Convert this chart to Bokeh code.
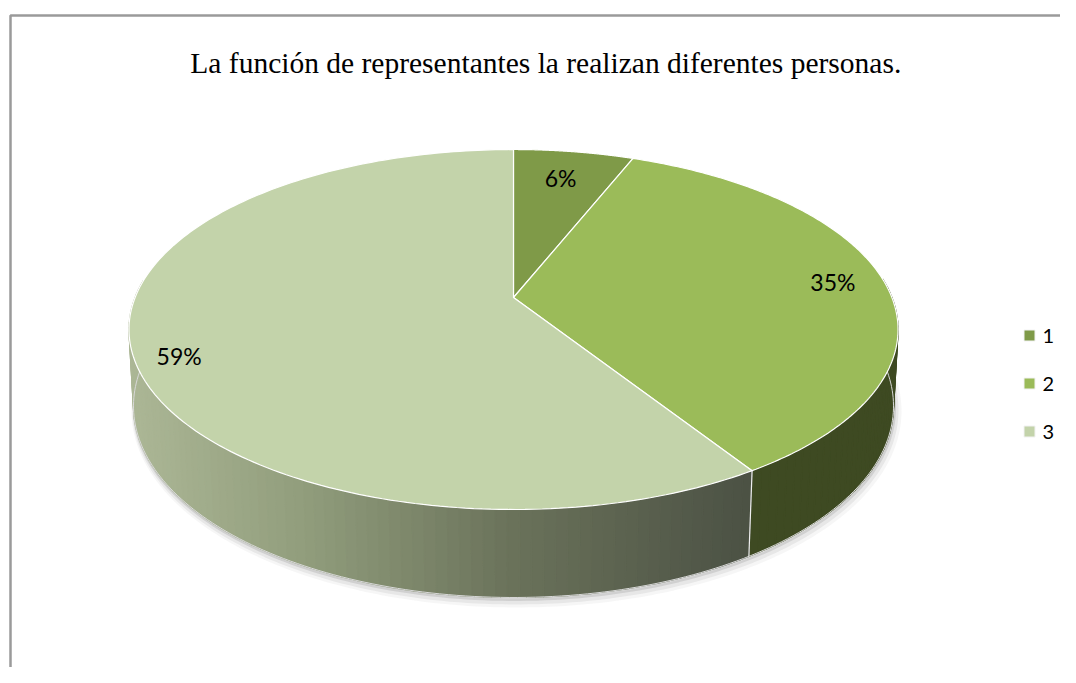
import numpy as np
from bokeh.plotting import figure
from bokeh.models import Range1d
from bokeh.core.properties import value
from bokeh.embed import file_html
from bokeh.resources import INLINE

# ---------------- data ----------------
title_text = "La función de representantes la realizan  diferentes personas."
categories = ["1", "2", "3"]
percentages = [6, 35, 59]
pct_labels = ["6%", "35%", "59%"]

# ---------------- style ----------------
top_colors = ["#7F9A48", "#9BBB59", "#C3D3AA"]
side_const = ["#5E7234", "#3E4A22", None]
grad_stops_t = [0.0, 0.22, 0.5, 0.81, 1.0]
grad_stops_c = [(172, 183, 150), (146, 158, 125), (106, 114, 90), (75, 81, 68), (70, 76, 64)]
label_r = [0.75, 0.86, 0.88]
label_dy = [-6, -2, 14]

W, H = 1060, 667
p = figure(width=W, height=H, x_range=Range1d(0, W), y_range=Range1d(H, 0),
           output_backend="svg", toolbar_location=None, min_border=0,
           x_axis_location=None, y_axis_location=None)
p.grid.visible = False
p.outline_line_color = None
p.background_fill_color = "white"
p.border_fill_color = "white"

# perspective projection of the pie (theta clockwise from 12 o'clock)
CX, CY = 513.0, 297.0
A, B, HD = 378.4, 174.3, 75.8
K, M = 0.1778, 0.0115


def proj(theta, r=1.0, h=0.0):
    u = r * np.sin(theta)
    v = -r * np.cos(theta)
    w = 1 - K * v + M * h
    return CX + A * u / w, CY + (B * v + HD * h) / w


total = float(sum(percentages))
cum = np.concatenate([[0.0], np.cumsum(percentages) / total])
ang = 2 * np.pi * cum

x_left = CX - A / np.sqrt(1 - K * K)
x_w = 2 * A / np.sqrt(1 - K * K)


def grad_color(x):
    t = (x - x_left) / x_w
    t = min(max(t, 0.0), 1.0)
    c = [np.interp(t, grad_stops_t, [s[j] for s in grad_stops_c]) for j in range(3)]
    return "#%02x%02x%02x" % tuple(int(round(v)) for v in c)


# ---------- shadow under the pie ----------
ts_front = np.linspace(np.radians(70), np.radians(290), 200)
for dx, dy, lw, al in [(3, 5, 10, 0.05), (2, 4, 6, 0.09), (1, 2, 3, 0.16)]:
    bx, by = proj(ts_front, h=1.0)
    p.line(bx + dx, by + dy, line_color="#555555", line_width=lw, line_alpha=al)

# ---------- side wall strips ----------
strips = []
for i in range(len(percentages)):
    t0, t1 = ang[i], ang[i + 1]
    n = max(2, int((t1 - t0) / (2 * np.pi) * 240))
    ts = np.linspace(t0, t1, n + 1)
    for a, b in zip(ts[:-1], ts[1:]):
        vm = -np.cos((a + b) / 2)
        if vm < -0.1:
            continue
        x0, y0 = proj(a)
        x1, y1 = proj(b)
        x2, y2 = proj(b, h=1.0)
        x3, y3 = proj(a, h=1.0)
        col = side_const[i] if side_const[i] else grad_color((x0 + x1) / 2)
        strips.append((vm, [x0, x1, x2, x3], [y0, y1, y2, y3], col))
strips.sort(key=lambda s: s[0])
p.patches([s[1] for s in strips], [s[2] for s in strips],
          fill_color=[s[3] for s in strips], line_color=[s[3] for s in strips], line_width=1.3)

# bottom edge highlight
bx, by = proj(ts_front, h=1.0)
p.line(bx, by, line_color="#D8D8D8", line_width=1)

# vertical edges at visible slice boundaries
for a in ang[1:-1]:
    if -np.cos(a) > 0.15:
        x0, y0 = proj(a)
        x1, y1 = proj(a, h=1.0)
        p.line([x0, x1], [y0, y1], line_color="#EEEEEE", line_width=1.2)

# ---------- top surface ----------
txs, tys = [], []
for i in range(len(percentages)):
    ts = np.linspace(ang[i], ang[i + 1], 200)
    ax, ay = proj(ts)
    cx0, cy0 = proj(0.0, r=0.0)
    txs.append([cx0] + list(ax))
    tys.append([cy0] + list(ay))
p.patches(txs, tys, fill_color=top_colors, line_color="white", line_width=1.2)

# ---------- percentage labels ----------
lx, ly = [], []
for i in range(len(percentages)):
    mid = (ang[i] + ang[i + 1]) / 2
    x, y = proj(mid, r=label_r[i])
    lx.append(x)
    ly.append(y + label_dy[i])
p.text(x=lx, y=ly, text=pct_labels, text_font=value("Lato"), text_font_size="23px",
       text_align="center", text_baseline="middle", text_color="#000000")

# ---------- legend ----------
leg_x = [1029] * len(categories)
leg_y = [335 + 48 * i for i in range(len(categories))]
p.scatter(x=leg_x, y=leg_y, marker="square", size=11, fill_color=top_colors,
          line_color="#F2F2F2", line_width=1)
p.text(x=[x + 13 for x in leg_x], y=leg_y, text=categories, text_font=value("Lato"),
       text_font_size="20px", text_align="left", text_baseline="middle", text_color="#000000")

# ---------- title ----------
p.text(x=[549], y=[62], text=[title_text], text_font=value("Liberation Serif"),
       text_font_size="29.5px", text_align="center", text_baseline="alphabetic",
       text_color="#000000")

# ---------- chart border ----------
p.line(x=[10, 10, 1100], y=[720, 15, 15], line_color="#9A9A9A", line_width=2.5)

open("out.html", "w").write(file_html(p, INLINE))
